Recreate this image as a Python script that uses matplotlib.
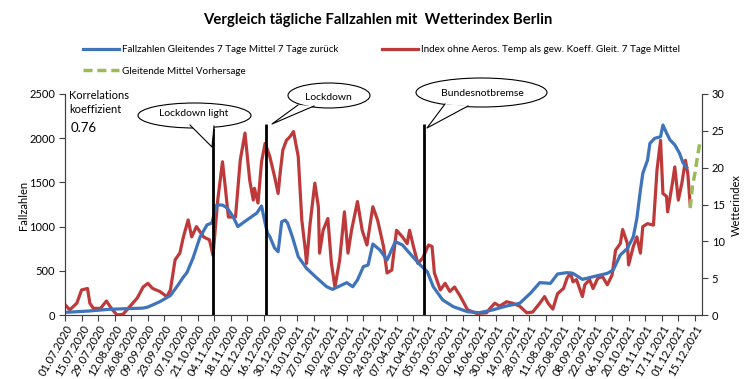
import datetime as dt
import matplotlib
matplotlib.use("Agg")
import matplotlib.pyplot as plt
from matplotlib.lines import Line2D
from matplotlib.patches import Ellipse, Polygon

plt.rcParams['font.family'] = ['Lato', 'DejaVu Sans']

# ---------------- data ----------------
start_date = dt.date(2020, 7, 1)

blue_day = [0, 20, 38, 60, 66, 70, 80, 89, 95, 100, 103, 108, 114, 120, 124, 128, 133, 137, 142,
            146, 150, 156, 162, 166, 169, 171, 173, 177, 180, 183, 186, 188, 192, 197, 204, 213,
            221, 226, 232, 238, 243, 247, 252, 256, 260, 266, 272, 279, 285, 291, 300, 306, 311,
            319, 328, 340, 350, 361, 373, 384, 393, 401, 410, 416, 424, 429, 437, 446, 458, 463,
            469, 475, 480, 483, 486, 488, 492, 494, 498, 503, 505, 508, 511, 515, 519, 522, 525]
blue_val = [30, 45, 65, 75, 78, 90, 150, 220, 330, 430, 480, 640, 880, 1020, 1040, 1244, 1244,
            1210, 1112, 1000, 1040, 1097, 1153, 1233, 1040, 927, 886, 758, 716, 1055, 1074, 1040,
            886, 660, 528, 415, 320, 290, 328, 366, 320, 396, 547, 566, 803, 735, 622, 830, 792,
            700, 566, 490, 320, 170, 94, 37, 26, 57, 102, 132, 245, 366, 358, 464, 479, 471, 403,
            433, 471, 509, 679, 754, 886, 1094, 1414, 1602, 1753, 1942, 1998, 2017, 2149, 2060,
            1980, 1925, 1830, 1720, 1670]

red_day = [0, 4, 10, 14, 19, 21, 24, 30, 35, 40, 44, 49, 55, 61, 66, 70, 74, 80, 86, 89, 93, 97,
           100, 104, 107, 111, 117, 122, 125, 129, 133, 135, 138, 144, 148, 152, 156, 159, 160,
           163, 166, 169, 173, 177, 180, 182, 184, 187, 190, 193, 197, 200, 203, 204, 207, 211,
           214, 215, 218, 222, 225, 228, 232, 236, 239, 242, 247, 251, 255, 260, 264, 269, 272,
           276, 280, 285, 289, 291, 294, 298, 302, 307, 310, 312, 317, 321, 325, 329, 334, 340,
           348, 356, 359, 363, 367, 373, 378, 384, 390, 395, 401, 405, 408, 412, 416, 421, 424,
           427, 429, 432, 437, 439, 443, 446, 450, 454, 458, 462, 465, 469, 471, 475, 476, 480,
           483, 486, 488, 492, 497, 500, 503, 505, 508, 509, 513, 515, 518, 521, 524, 526, 528]
red_val = [1.4, 0.7, 1.6, 3.4, 3.6, 1.6, 0.9, 0.9, 1.9, 0.7, 0.0, 0.1, 1.2, 2.3, 3.8, 4.3, 3.6,
           3.2, 2.5, 3.4, 7.5, 8.4, 10.6, 12.9, 10.6, 12.0, 10.6, 10.2, 8.1, 15.6, 20.8, 17.9,
           13.3, 13.3, 21.0, 24.7, 18.3, 15.6, 17.2, 15.2, 20.8, 23.3, 21.5, 18.8, 16.5, 19.7,
           22.4, 23.7, 24.2, 24.9, 21.5, 12.9, 8.8, 7.0, 12.4, 17.9, 14.7, 8.4, 11.5, 13.1, 7.0,
           3.8, 7.5, 14.0, 8.4, 11.5, 15.4, 11.5, 9.5, 14.7, 12.9, 9.3, 5.7, 6.1, 11.5, 10.6, 9.7,
           11.5, 9.5, 7.0, 7.7, 9.5, 9.3, 5.7, 3.4, 4.3, 3.2, 3.8, 2.5, 0.7, 0.2, 0.3, 0.9, 1.6,
           1.2, 1.8, 1.6, 1.2, 0.3, 0.4, 1.6, 2.5, 1.6, 0.8, 2.9, 3.6, 5.0, 5.7, 4.5, 4.8, 2.5,
           4.1, 4.8, 3.6, 5.0, 5.2, 4.1, 5.4, 8.8, 9.7, 11.6, 9.7, 6.8, 9.3, 10.6, 8.4, 12.0,
           12.4, 12.2, 19.7, 23.7, 16.5, 16.1, 14.0, 17.9, 20.1, 15.6, 17.9, 21.0, 19.2, 15.0]

green_day = [528, 530, 532, 534, 536]
green_val = [14.5, 17.6, 19.2, 21.3, 23.2]

event_day = [125, 170, 303]
event_top = [2115, 2160, 2160]
event_text = ["Lockdown light", "Lockdown", "Bundesnotbremse"]

tick_days = list(range(0, 533, 14))
tick_labels = [(start_date + dt.timedelta(days=d)).strftime("%d.%m.%Y") for d in tick_days]

label_blue = "Fallzahlen Gleitendes 7 Tage Mittel 7 Tage zurück"
label_red = "Index ohne Aeros. Temp als gew. Koeff. Gleit. 7 Tage Mittel"
label_green = "Gleitende Mittel Vorhersage"
title = "Vergleich tägliche Fallzahlen mit  Wetterindex Berlin"

# ---------------- figure ----------------
W, H = 756, 379
fig = plt.figure(figsize=(W / 100, H / 100), dpi=100)


def fx(px):
    return px / W


def fy(py):
    return 1 - py / H


ax = fig.add_axes([fx(65), fy(315), (702 - 65) / W, (315 - 94) / H])
ax2 = ax.twinx()

c_blue = '#3F73BA'
c_red = '#BE3A3A'
c_green = '#9BBB59'
c_axis = '#404040'
green_dash = (0, (2.6, 1.4))

ax.plot(blue_day, blue_val, color=c_blue, lw=2.3, solid_joinstyle='round', zorder=2)
ax2.plot(red_day, red_val, color=c_red, lw=2.3, solid_joinstyle='round', zorder=3)
ax2.plot(green_day, green_val, color=c_green, lw=2.5, ls=green_dash, zorder=3)

ax.vlines(event_day, 0, event_top, color='black', lw=2.0, zorder=4)

ax.set_xlim(0, 538)
ax.set_ylim(0, 2500)
ax2.set_ylim(0, 30)
ax.set_yticks(range(0, 2501, 500))
ax2.set_yticks(range(0, 31, 5))
ax.set_xticks(tick_days)
ax.set_xticklabels(tick_labels, rotation=60, ha='right', rotation_mode='anchor', fontsize=7.2)

for a in (ax, ax2):
    a.spines['top'].set_visible(False)
    for s in ('left', 'right', 'bottom'):
        a.spines[s].set_color(c_axis)
        a.spines[s].set_linewidth(0.8)
    a.tick_params(direction='out', length=4, width=0.8, color=c_axis, labelsize=8,
                  labelcolor='black', pad=3)
ax.tick_params(axis='x', pad=2)
ax.set_zorder(ax2.get_zorder() + 1)
ax.patch.set_visible(False)

fig.text(fx(24), fy(205), "Fallzahlen", rotation=90, ha='center', va='center', fontsize=8)
fig.text(fx(736), fy(205), "Wetterindex", rotation=90, ha='center', va='center', fontsize=8)

fig.text(fx(377.5), fy(20), title, ha='center', va='center', fontsize=10.7, fontweight='bold')

h_blue = Line2D([], [], color=c_blue, lw=2.3)
h_red = Line2D([], [], color=c_red, lw=2.3)
h_green = Line2D([], [], color=c_green, lw=2.5, ls=green_dash)
legkw = dict(loc='upper left', frameon=False, fontsize=7.1, handlelength=3.6, handletextpad=0.35,
             labelspacing=1.3, borderpad=0, borderaxespad=0)
fig.legend([h_blue, h_green], [label_blue, label_green], bbox_to_anchor=(fx(83), fy(45)), **legkw)
fig.legend([h_red], [label_red], bbox_to_anchor=(fx(382), fy(45)), **legkw)

fig.text(fx(69), fy(90), "Korrelations\nkoeffizient", ha='left', va='top', fontsize=8,
         linespacing=1.3)
fig.text(fx(71), fy(128), "0.76", ha='left', va='center', fontsize=9.5)

# callouts (pixel geometry of the speech bubbles)
callouts = [
    dict(c=(194.5, 115.5), w=113, h=25, b1=(190, 125), b2=(214, 126), tip=(212, 147),
         t=(194, 114)),
    dict(c=(329, 95.5), w=82, h=25, b1=(298, 105), b2=(314, 106), tip=(272, 124),
         t=(328, 97)),
    dict(c=(481.5, 92.5), w=131, h=29, b1=(445, 104), b2=(468, 106), tip=(427, 128),
         t=(482, 94)),
]
for cd, txt in zip(callouts, event_text):
    e = Ellipse((fx(cd['c'][0]), fy(cd['c'][1])), cd['w'] / W, cd['h'] / H,
                transform=fig.transFigure, facecolor='white', edgecolor='black', lw=0.8,
                zorder=10)
    fig.add_artist(e)
    pts = [(fx(p[0]), fy(p[1])) for p in (cd['b1'], cd['tip'], cd['b2'])]
    fig.add_artist(Polygon(pts, closed=True, transform=fig.transFigure, facecolor='white',
                           edgecolor='none', zorder=11))
    fig.add_artist(Line2D([p[0] for p in pts], [p[1] for p in pts], transform=fig.transFigure,
                          color='black', lw=0.8, zorder=12))
    fig.text(fx(cd['t'][0]), fy(cd['t'][1]), txt, ha='center', va='center', fontsize=7.5,
             zorder=13)

fig.savefig("out.png", dpi=100)
